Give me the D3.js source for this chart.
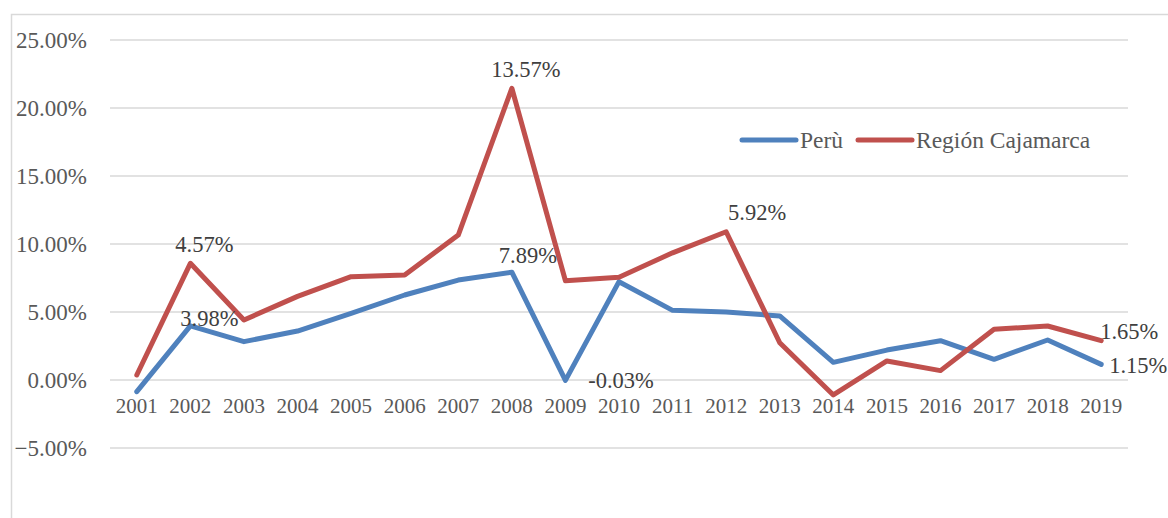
<!DOCTYPE html>
<html><head><meta charset="utf-8">
<script src="https://cdn.jsdelivr.net/npm/d3@7"></script>
<style>body{margin:0;background:#fff}svg{display:block}svg text{font-family:"Liberation Serif","Times New Roman",serif}</style>
</head><body>
<svg id="chart" width="1168" height="518"></svg>
<script>
const years = ["2001","2002","2003","2004","2005","2006","2007","2008","2009","2010","2011","2012","2013","2014","2015","2016","2017","2018","2019"];
const peru = [-0.86,3.98,2.82,3.6,4.9,6.25,7.35,7.93,-0.03,7.23,5.12,5.0,4.71,1.3,2.2,2.89,1.52,2.94,1.15];
const cajamarca = [0.37,8.58,4.41,6.15,7.6,7.72,10.66,21.45,7.3,7.55,9.35,10.9,2.74,-1.1,1.4,0.69,3.73,3.97,2.89];
const yTicks = [-5,0,5,10,15,20,25];
const seriesNames = ["Perù","Región Cajamarca"];
const colors = ["#4F81BD","#C0504D"];
// annotation labels: text, year, baseline anchor (% units), horizontal offset
const annotations = [
  {text:"4.57%", year:"2002", y:9.41, dx:14},
  {text:"3.98%", year:"2002", y:3.97, dx:19},
  {text:"13.57%", year:"2008", y:22.28, dx:14},
  {text:"7.89%", year:"2008", y:8.62, dx:16},
  {text:"-0.03%", year:"2010", y:-0.59, dx:2},
  {text:"5.92%", year:"2012", y:11.76, dx:31},
  {text:"1.65%", year:"2019", y:3.0, dx:28},
  {text:"1.15%", year:"2019", y:0.51, dx:37}
];

const svg = d3.select("#chart");
const left = 110, right = 1128;
const x = d3.scaleBand().domain(years).range([left, right]);
const y = d3.scaleLinear().domain([-5,25]).range([448,40]);

svg.append("path").attr("d","M11.5,518 V14.5 H1168").attr("fill","none").attr("stroke","#d9d9d9").attr("stroke-width",1.5);

svg.append("g").selectAll("line").data(yTicks).join("line")
  .attr("x1",left).attr("x2",right)
  .attr("y1",d=>y(d)).attr("y2",d=>y(d))
  .attr("stroke","#d9d9d9").attr("stroke-width",1.5);

const yAxis = d3.axisLeft(y).tickValues(yTicks).tickSize(0).tickPadding(0)
  .tickFormat(d=>d3.format(".2f")(d)+"%");
const gy = svg.append("g").attr("transform","translate(87,0)").call(yAxis);
gy.attr("font-family",null);
gy.select(".domain").remove();
gy.selectAll("text").attr("font-size",23).attr("fill","#595959").attr("dy","0.32em");

const xAxis = d3.axisBottom(x).tickSize(0).tickPadding(0);
const gx = svg.append("g").attr("transform","translate(0,397)").call(xAxis);
gx.attr("font-family",null);
gx.select(".domain").remove();
gx.selectAll("text").attr("font-size",21).attr("fill","#595959").attr("dy","0.75em");

const line = d3.line().x((d,i)=>x(years[i])+x.bandwidth()/2).y(d=>y(d));
[peru,cajamarca].forEach((s,i)=>{
  svg.append("path").datum(s).attr("d",line).attr("fill","none")
    .attr("stroke",colors[i]).attr("stroke-width",5).attr("stroke-linejoin","round").attr("stroke-linecap","round");
});

svg.append("g").selectAll("text").data(annotations).join("text")
  .attr("x",d=>x(d.year)+x.bandwidth()/2+d.dx)
  .attr("y",d=>y(d.y))
  .attr("text-anchor","middle")
  .attr("font-size",22.5).attr("fill","#404040")
  .text(d=>d.text);

const lg = svg.append("g");
const legendPos = [{x:742,tx:800},{x:858,tx:916}];
seriesNames.forEach((n,i)=>{
  lg.append("line").attr("x1",legendPos[i].x).attr("x2",legendPos[i].x+54).attr("y1",140).attr("y2",140)
    .attr("stroke",colors[i]).attr("stroke-width",5).attr("stroke-linecap","round");
  lg.append("text").attr("x",legendPos[i].tx).attr("y",140).attr("dy","0.35em")
    .attr("font-size",23.5).attr("fill","#595959").text(n);
});
</script>
</body></html>
